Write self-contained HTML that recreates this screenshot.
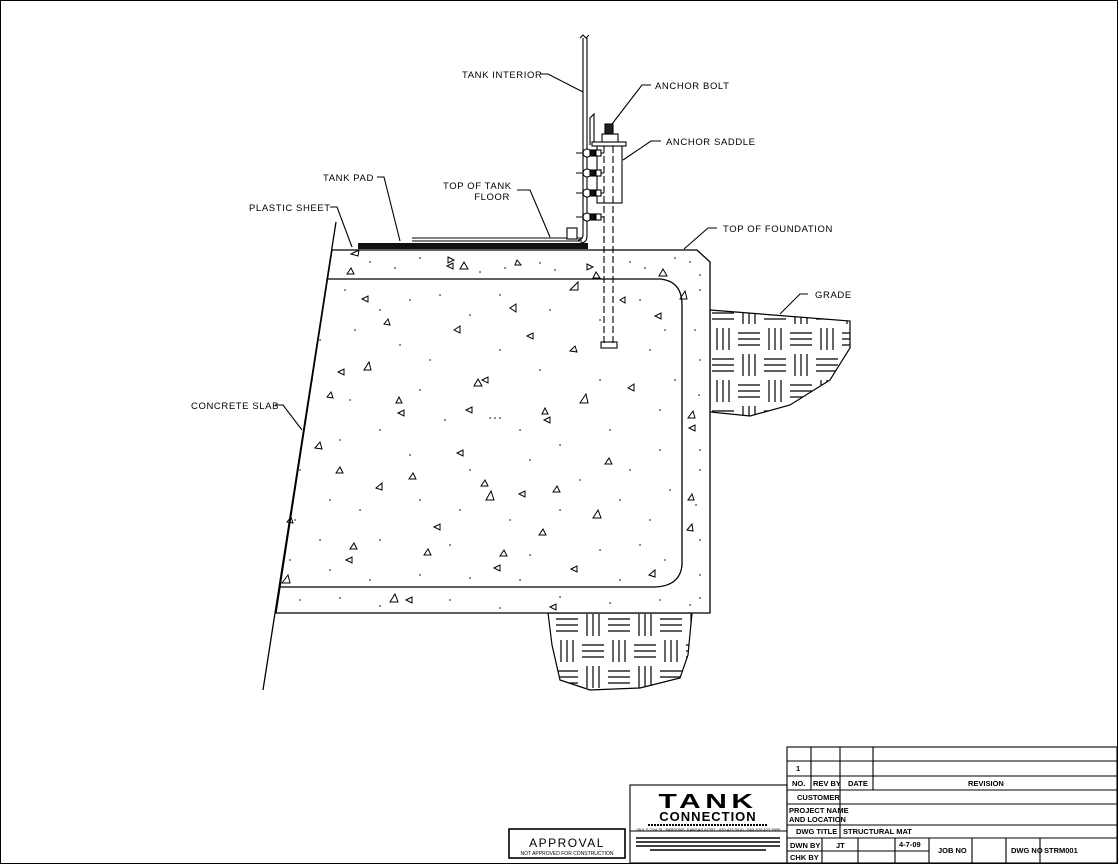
<!DOCTYPE html>
<html><head><meta charset="utf-8"><style>
html,body{margin:0;padding:0;background:#fff}
svg{display:block}
text{font-family:"Liberation Sans",sans-serif;fill:#000}
.l{font-size:9.5px;letter-spacing:0.6px}
.t{font-size:7.5px;font-weight:bold}
</style></head><body>
<svg width="1119" height="865" viewBox="0 0 1119 865" xmlns="http://www.w3.org/2000/svg">
<defs>
<pattern id="h" width="52" height="52" patternUnits="userSpaceOnUse" x="710" y="300">
<g stroke="#000" stroke-width="1.2">
<line x1="2" y1="7" x2="24" y2="7"/><line x1="2" y1="13" x2="24" y2="13"/><line x1="2" y1="19" x2="24" y2="19"/>
<line x1="33" y1="2" x2="33" y2="24"/><line x1="39" y1="2" x2="39" y2="24"/><line x1="45" y1="2" x2="45" y2="24"/>
<line x1="7" y1="28" x2="7" y2="50"/><line x1="13" y1="28" x2="13" y2="50"/><line x1="19" y1="28" x2="19" y2="50"/>
<line x1="28" y1="33" x2="50" y2="33"/><line x1="28" y1="39" x2="50" y2="39"/><line x1="28" y1="45" x2="50" y2="45"/>
</g></pattern>
</defs>
<rect x="0.5" y="0.5" width="1117" height="863" fill="none" stroke="#000"/>
<polygon points="710,310 850,321 850,348 830,380 790,405 750,416 710,412" fill="url(#h)" stroke="#000" stroke-width="1.2"/>
<polygon points="548,613 692,613 688,655 680,678 640,688 590,690 560,680 552,645" fill="url(#h)" stroke="#000" stroke-width="1.2"/>
<g stroke="#000" stroke-width="1.3" fill="none">
<polygon points="332,250 697,250 710,262 710,613 276,613" fill="#fff"/>
<line x1="336" y1="222" x2="263" y2="690"/>
<path d="M328,279 H660 Q682,281 682,305 V565 Q680,586 655,587 H280"/>
</g>
<!-- triangles -->
<g stroke="#000" stroke-width="1" fill="none">
<path d="M351,254 l8,-4 l-1,6z"/><path d="M448,257 l6,3 l-6,3z"/><path d="M464,262 l4,7 l-8,0z"/><path d="M447,266 l6,-3 l0,6z"/>
<path d="M517,260 l4,5 l-6,0z"/><path d="M587,264 l6,3 l-6,3z"/><path d="M596,272 l4,6 l-7,0z"/><path d="M570,290 l8,-8 l0,8z"/>
<path d="M659,276 l4,-7 l4,7z"/><path d="M680,299 l5,-8 l2,8z"/><path d="M362,299 l6,-3 l0,6z"/><path d="M510,308 l6,-4 l0,8z"/>
<path d="M384,324 l4,-5 l2,6z"/><path d="M454,330 l6,-4 l0,7z"/><path d="M527,336 l6,-3 l0,6z"/><path d="M570,351 l5,-5 l2,6z"/>
<path d="M655,316 l6,-3 l0,6z"/><path d="M364,370 l5,-8 l2,8z"/><path d="M338,372 l6,-3 l0,6z"/><path d="M474,386 l4,-7 l4,7z"/>
<path d="M482,380 l6,-3 l0,6z"/><path d="M628,388 l6,-4 l0,7z"/><path d="M580,403 l6,-9 l2,9z"/><path d="M327,397 l4,-5 l2,6z"/>
<path d="M396,403 l3,-6 l3,6z"/><path d="M398,413 l6,-3 l0,6z"/><path d="M466,410 l6,-3 l0,6z"/><path d="M542,414 l3,-6 l3,6z"/>
<path d="M544,420 l6,-3 l0,6z"/><path d="M688,418 l5,-7 l2,7z"/><path d="M689,428 l6,-3 l0,6z"/><path d="M315,448 l5,-6 l2,7z"/>
<path d="M457,453 l6,-3 l0,6z"/><path d="M605,464 l4,-6 l3,6z"/><path d="M336,473 l4,-6 l3,6z"/><path d="M409,479 l4,-6 l3,6z"/>
<path d="M376,488 l6,-5 l0,7z"/><path d="M481,486 l4,-6 l3,6z"/><path d="M519,494 l6,-3 l0,6z"/><path d="M553,492 l4,-6 l3,6z"/>
<path d="M486,500 l5,-9 l3,9z"/><path d="M287,522 l4,-5 l2,6z"/><path d="M434,527 l6,-3 l0,6z"/><path d="M593,518 l5,-8 l3,8z"/>
<path d="M539,535 l4,-6 l3,6z"/><path d="M350,549 l4,-6 l3,6z"/><path d="M346,560 l6,-3 l0,6z"/><path d="M424,555 l4,-6 l3,6z"/>
<path d="M500,556 l4,-6 l3,6z"/><path d="M494,568 l6,-3 l0,6z"/><path d="M571,569 l6,-3 l0,6z"/><path d="M649,575 l6,-5 l0,7z"/>
<path d="M282,583 l6,-8 l2,8z"/><path d="M390,602 l5,-8 l3,8z"/><path d="M406,600 l6,-3 l0,6z"/><path d="M550,607 l6,-3 l0,6z"/>
<path d="M688,500 l4,-6 l2,6z"/><path d="M687,530 l5,-6 l1,7z"/><path d="M347,274 l4,-6 l3,6z"/><path d="M620,300 l5,-3 l0,6z"/>
</g>
<!-- dots -->
<g stroke="#000" stroke-width="1.3" stroke-linecap="square">
<path d="M370,262h.1M395,268h.1M420,258h.1M480,272h.1M505,268h.1M540,263h.1M555,270h.1M630,262h.1M645,268h.1M690,262h.1M700,275h.1M675,258h.1
M345,290h.1M380,310h.1M410,300h.1M440,295h.1M470,315h.1M500,295h.1M550,310h.1M600,320h.1M640,300h.1M665,330h.1M700,290h.1M695,330h.1
M320,340h.1M355,330h.1M400,345h.1M430,360h.1M500,350h.1M540,370h.1M600,380h.1M650,350h.1M675,380h.1M700,360h.1M699,395h.1
M312,380h.1M350,400h.1M420,390h.1M445,420h.1M490,418h.1M495,418h.1M500,418h.1M520,430h.1M560,445h.1M610,430h.1M660,410h.1M700,450h.1
M305,420h.1M340,440h.1M380,430h.1M410,455h.1M470,470h.1M530,460h.1M580,480h.1M630,470h.1M660,450h.1M700,470h.1M696,505h.1
M300,470h.1M330,500h.1M360,510h.1M420,500h.1M460,510h.1M510,520h.1M560,510h.1M620,500h.1M650,520h.1M670,490h.1M700,540h.1
M295,520h.1M320,540h.1M380,540h.1M450,545h.1M530,555h.1M600,550h.1M640,545h.1M665,560h.1M700,575h.1
M290,560h.1M330,570h.1M370,580h.1M420,575h.1M470,578h.1M520,580h.1M620,580h.1
M300,600h.1M340,598h.1M380,606h.1M450,600h.1M500,608h.1M560,597h.1M610,603h.1M660,600h.1M700,598h.1M690,605h.1"/>
</g>
<!-- tank pad & tank -->
<rect x="358" y="243" width="230" height="6" fill="#111"/>
<g stroke="#000" stroke-width="1.1" fill="none">
<line x1="412" y1="238" x2="582" y2="238"/><line x1="412" y1="241" x2="582" y2="241"/>
<path d="M583,38 V234 Q583,240 578,240"/><path d="M587,38 V236 Q587,243 580,243"/>
<path d="M580,38 l3,-3 l3,3 l3,-3"/>
<rect x="567" y="228" width="10" height="11" fill="#fff"/>
<path d="M590,145 V118 l4,-4 V145"/>
<rect x="597" y="145" width="25" height="58" fill="#fff"/>
<rect x="592" y="142" width="34" height="4" fill="#fff"/>
<rect x="602" y="134" width="16" height="8" fill="#fff"/>
<rect x="605" y="124" width="8" height="10" fill="#222"/>
<line x1="604" y1="146" x2="604" y2="345" stroke-dasharray="7,3"/>
<line x1="613" y1="146" x2="613" y2="345" stroke-dasharray="7,3"/>
<rect x="601" y="342" width="16" height="6"/>
</g>
<g stroke="#000" stroke-width="1.1">
<g transform="translate(0,153)"><line x1="576" y1="0" x2="604" y2="0"/><circle cx="587" cy="0" r="4" fill="#fff"/><rect x="590" y="-3" width="5" height="6" fill="#111"/><rect x="596" y="-3" width="5" height="6" fill="#fff"/></g>
<g transform="translate(0,173)"><line x1="576" y1="0" x2="604" y2="0"/><circle cx="587" cy="0" r="4" fill="#fff"/><rect x="590" y="-3" width="5" height="6" fill="#111"/><rect x="596" y="-3" width="5" height="6" fill="#fff"/></g>
<g transform="translate(0,193)"><line x1="576" y1="0" x2="604" y2="0"/><circle cx="587" cy="0" r="4" fill="#fff"/><rect x="590" y="-3" width="5" height="6" fill="#111"/><rect x="596" y="-3" width="5" height="6" fill="#fff"/></g>
<g transform="translate(0,217)"><line x1="576" y1="0" x2="604" y2="0"/><circle cx="587" cy="0" r="4" fill="#fff"/><rect x="590" y="-3" width="5" height="6" fill="#111"/><rect x="596" y="-3" width="5" height="6" fill="#fff"/></g>
</g>
<g stroke="#000" stroke-width="1.1" fill="none">
<path d="M540,74 H548 L583,92"/>
<path d="M651,85 H642 L612,124"/>
<path d="M661,141 H651 L623,160"/>
<path d="M377,177 H384 L400,241"/>
<path d="M517,190 H530 L550,237"/>
<path d="M330,207 H337 L352,247"/>
<path d="M717,228 H708 L684,249"/>
<path d="M808,294 H800 L780,314"/>
<path d="M275,405 H283 L302,430"/>
</g>
<g class="l">
<text x="462" y="78">TANK INTERIOR</text>
<text x="655" y="89">ANCHOR BOLT</text>
<text x="666" y="145">ANCHOR SADDLE</text>
<text x="323" y="181">TANK PAD</text>
<text x="443" y="189">TOP OF TANK</text>
<text x="510" y="200" text-anchor="end">FLOOR</text>
<text x="249" y="211">PLASTIC SHEET</text>
<text x="723" y="232">TOP OF FOUNDATION</text>
<text x="815" y="298">GRADE</text>
<text x="191" y="409">CONCRETE SLAB</text>
</g>
<g stroke="#000" stroke-width="1.1" fill="none">
<rect x="787" y="747" width="330" height="116"/>
<line x1="787" y1="761" x2="1117" y2="761"/><line x1="787" y1="776" x2="1117" y2="776"/>
<line x1="787" y1="790" x2="1117" y2="790"/><line x1="787" y1="804" x2="1117" y2="804"/>
<line x1="787" y1="825" x2="1117" y2="825"/><line x1="787" y1="838" x2="1117" y2="838"/>
<line x1="787" y1="851" x2="929" y2="851"/>
<line x1="811" y1="747" x2="811" y2="790"/><line x1="840" y1="747" x2="840" y2="838"/><line x1="873" y1="747" x2="873" y2="790"/>
<line x1="822" y1="838" x2="822" y2="863"/><line x1="858" y1="838" x2="858" y2="863"/>
<line x1="895" y1="838" x2="895" y2="863"/><line x1="929" y1="838" x2="929" y2="863"/>
<line x1="972" y1="838" x2="972" y2="863"/><line x1="1006" y1="838" x2="1006" y2="863"/><line x1="1040" y1="838" x2="1040" y2="863"/>
<rect x="630" y="785" width="157" height="78"/>
<line x1="630" y1="831" x2="787" y2="831"/>
<rect x="509" y="829" width="116" height="29" stroke-width="1.6"/>
</g>
<g class="t">
<text x="796" y="771">1</text>
<text x="792" y="786">NO.</text><text x="813" y="786">REV BY</text><text x="848" y="786">DATE</text><text x="968" y="786">REVISION</text>
<text x="797" y="800">CUSTOMER</text>
<text x="789" y="813">PROJECT NAME</text><text x="789" y="822">AND LOCATION</text>
<text x="796" y="834">DWG TITLE</text><text x="843" y="834">STRUCTURAL MAT</text>
<text x="790" y="848">DWN BY</text><text x="836" y="848">JT</text><text x="899" y="847">4-7-09</text>
<text x="938" y="853">JOB NO</text><text x="1011" y="853">DWG NO</text><text x="1044" y="853">STRM001</text>
<text x="790" y="860">CHK BY</text>
</g>
<text x="708" y="808" text-anchor="middle" style="font-size:20px;font-weight:900;letter-spacing:3px" transform="translate(708,808) scale(1.5,1) translate(-708,-808)">TANK</text>
<text x="708" y="821" text-anchor="middle" style="font-size:13px;font-weight:bold;letter-spacing:1px">CONNECTION</text>
<line x1="648" y1="825" x2="768" y2="825" stroke="#000" stroke-width="2" stroke-dasharray="2,1"/>
<text x="708" y="831" text-anchor="middle" style="font-size:4px">1801 S 21st St . PARSONS, KANSAS 67357 · 620.423.3010 · FAX 620.423.3999</text>
<g stroke="#000" stroke-width="1.5"><line x1="636" y1="838" x2="780" y2="838"/><line x1="636" y1="842" x2="780" y2="842"/><line x1="636" y1="846" x2="780" y2="846"/><line x1="650" y1="850" x2="766" y2="850"/></g>
<text x="567" y="847" text-anchor="middle" style="font-size:12px;letter-spacing:1.5px">APPROVAL</text>
<text x="567" y="855" text-anchor="middle" style="font-size:5px">NOT APPROVED FOR CONSTRUCTION</text>
</svg>
</body></html>
